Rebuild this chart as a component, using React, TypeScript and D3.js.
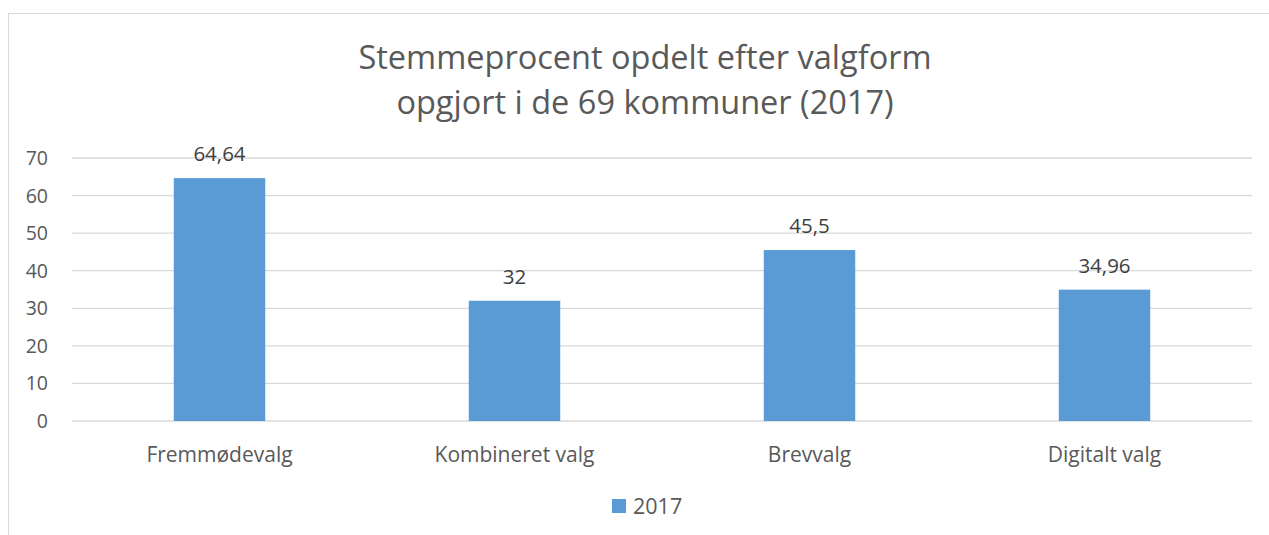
import React from "react";
import * as d3 from "d3";

const categories = ["Fremmødevalg", "Kombineret valg", "Brevvalg", "Digitalt valg"];
const values2017 = [64.64, 32, 45.5, 34.96];
const valueLabels = ["64,64", "32", "45,5", "34,96"];
const yTicks = [0, 10, 20, 30, 40, 50, 60, 70];
const titleLines = ["Stemmeprocent opdelt efter valgform", "opgjort i de 69 kommuner (2017)"];
const seriesName = "2017";

export default function App() {
  const W = 1269, H = 535;
  const left = 72, right = 1252, top = 158, bottom = 421;
  const x = d3.scaleBand<string>().domain(categories).range([left, right]).paddingInner(0.69).paddingOuter(0.345);
  const y = d3.scaleLinear().domain([0, 70]).range([bottom, top]);
  const font = "'Open Sans', 'Liberation Sans', sans-serif";
  const txt = "#595959";
  return (
    <svg width={W} height={H} style={{ position: "absolute", left: 0, top: 0 }} fontFamily={font}>
      <rect x={0} y={0} width={W} height={H} fill="#fff" />
      <rect x={8.5} y={13.5} width={W + 20} height={H + 20} fill="#fff" stroke="#d9d9d9" strokeWidth={1} />
      {titleLines.map((t, i) => (
        <text key={i} x={645} y={69 + i * 45} textAnchor="middle" fontSize={32.5} fill={txt}>{t}</text>
      ))}
      {yTicks.map(t => (
        <g key={t}>
          <line x1={left} x2={right} y1={y(t)} y2={y(t)} stroke="#d9d9d9" strokeWidth={1.3} />
          <text x={48} y={y(t) + 7} textAnchor="end" fontSize={19.5} fill={txt}>{t}</text>
        </g>
      ))}
      {categories.map((c, i) => (
        <g key={c}>
          <rect x={x(c)} y={y(values2017[i])} width={x.bandwidth()} height={bottom - y(values2017[i])} fill="#5b9bd5" />
          <text x={(x(c) as number) + x.bandwidth() / 2} y={y(values2017[i]) - 17} textAnchor="middle" fontSize={20.5} fill="#404040">{valueLabels[i]}</text>
          <text x={(x(c) as number) + x.bandwidth() / 2} y={462} textAnchor="middle" fontSize={21} fill={txt}>{c}</text>
        </g>
      ))}
      <rect x={612} y={499} width={14} height={14} fill="#5b9bd5" />
      <text x={633} y={514} fontSize={21.5} fill={txt}>{seriesName}</text>
    </svg>
  );
}
